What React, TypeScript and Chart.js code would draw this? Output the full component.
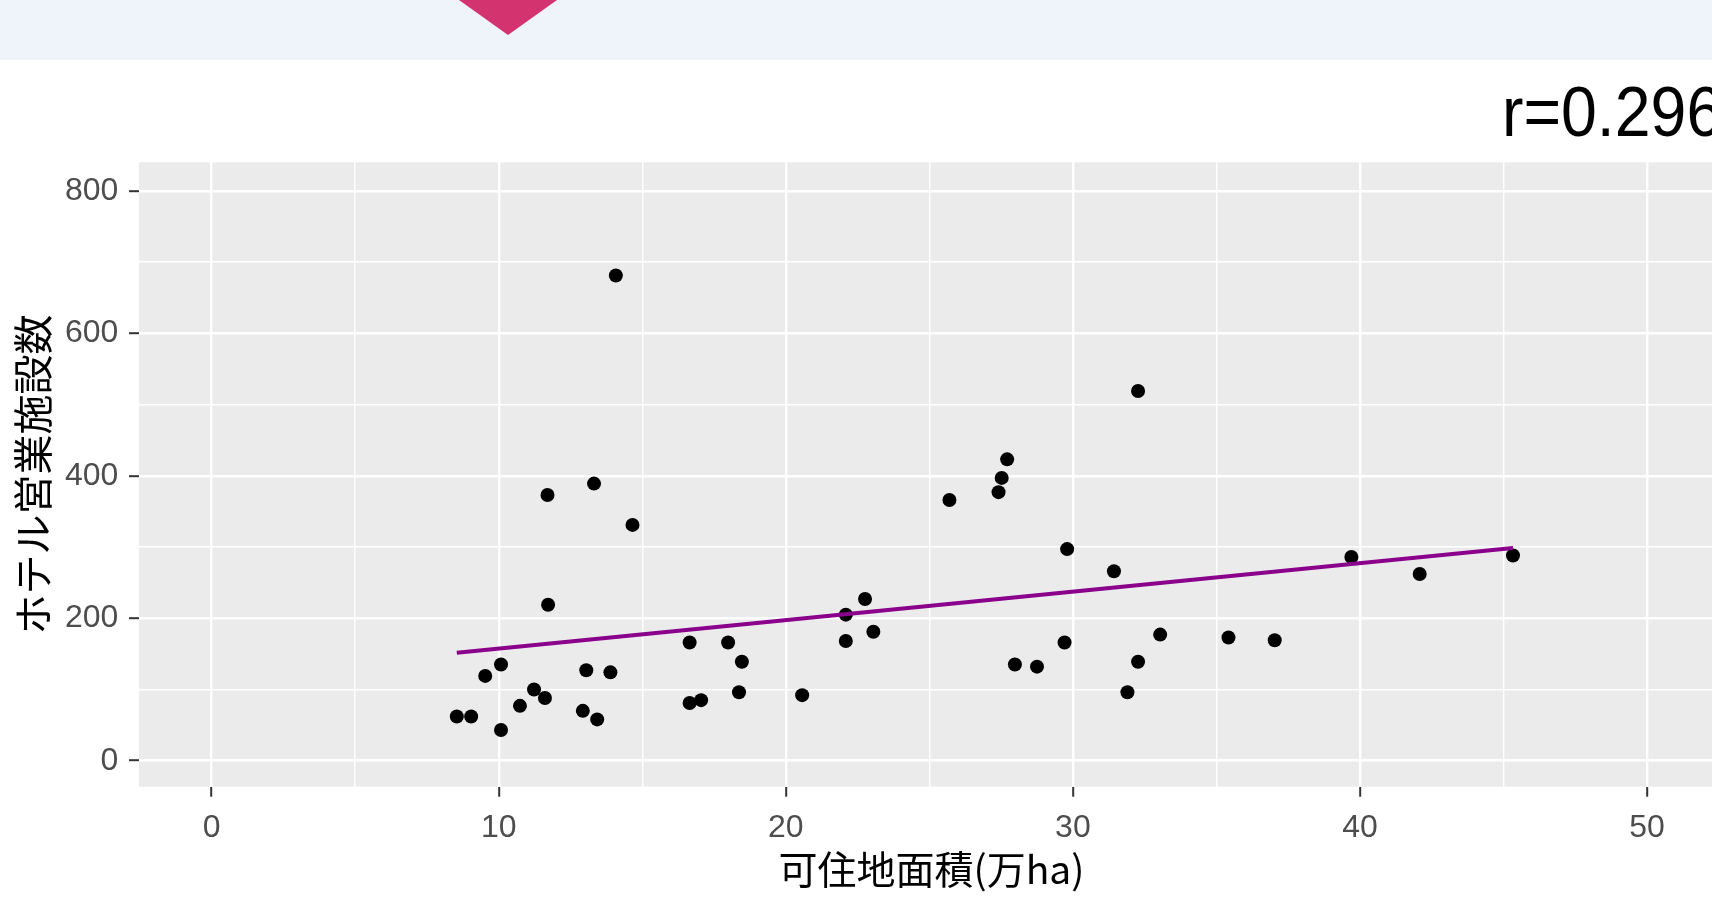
import React, { useEffect, useRef } from "react";
import { Chart, registerables } from "chart.js";

Chart.register(...registerables);

// 可住地面積 (万ha)
const areaX = [
  8.54, 9.04, 9.53, 10.08, 10.08, 10.74, 11.23, 11.61, 11.72, 11.70,
  12.93, 13.05, 13.32, 13.43, 13.89, 14.08, 14.66, 16.65, 16.65, 17.05,
  17.99, 18.37, 18.47, 20.57, 22.09, 22.09, 22.76, 23.05, 25.70, 27.41,
  27.52, 27.71, 27.98, 28.75, 29.71, 29.80, 31.43, 31.90, 32.27, 32.27,
  33.04, 35.42, 37.03, 39.70, 42.08, 45.33,
];
// ホテル営業施設数
const hotelY = [
  62, 62, 119, 135, 43, 77, 100, 88, 219, 373,
  70, 127, 389, 58, 124, 681, 331, 166, 81, 85,
  166, 96, 139, 92, 168, 205, 227, 181, 366, 377,
  397, 423, 135, 132, 166, 297, 266, 96, 519, 139,
  177, 173, 169, 286, 262, 288,
];
// regression line end points
const fitX = [8.54, 45.33];
const fitY = [151.5, 298.5];

const xTickLabels = ["0", "10", "20", "30", "40", "50"];
const yTickLabels = ["0", "200", "400", "600", "800"];

const xTitle = "可住地面積(万ha)";
const yTitle = "ホテル営業施設数";
const corrText = "r=0.296";

const LATIN = "'Liberation Sans', Arial, sans-serif";
const CJK = "'Noto Sans CJK JP', 'Noto Sans', sans-serif";

export default function App() {
  const ref = useRef<HTMLCanvasElement | null>(null);

  useEffect(() => {
    const canvas = ref.current;
    if (!canvas) return;
    const panelBg = {
      id: "panelBg",
      beforeDraw(chart: any) {
        const { ctx, chartArea } = chart;
        ctx.save();
        ctx.fillStyle = "#EBEBEB";
        ctx.fillRect(chartArea.left, chartArea.top, chartArea.right - chartArea.left, chartArea.bottom - chartArea.top);
        ctx.restore();
      },
    };
    const chart = new Chart(canvas, {
      type: "scatter",
      data: {
        datasets: [
          {
            type: "line",
            data: fitX.map((x, i) => ({ x, y: fitY[i] })),
            borderColor: "#8B008B",
            borderWidth: 4,
            pointRadius: 0,
            fill: false,
            tension: 0,
          } as any,
          {
            type: "scatter",
            data: areaX.map((x, i) => ({ x, y: hotelY[i] })),
            backgroundColor: "#000000",
            borderWidth: 0,
            pointRadius: 7,
            pointHoverRadius: 7,
          },
        ],
      },
      options: {
        animation: false,
        responsive: false,
        devicePixelRatio: 1,
        layout: { autoPadding: false, padding: { top: 162.3, left: 0, right: 0, bottom: 0 } },
        plugins: { legend: { display: false }, tooltip: { enabled: false } },
        events: [],
        scales: {
          x: {
            type: "linear",
            position: "bottom",
            min: -2.53,
            max: 52.68,
            border: { display: false },
            grid: {
              color: "#FFFFFF",
              lineWidth: (c: any) => (c.tick && c.tick.value % 10 === 0 ? 2.4 : 1.4),
              drawTicks: true,
              tickLength: 10,
              tickWidth: 2,
              tickColor: (c: any) => (c.tick && c.tick.value % 10 === 0 ? "#333333" : "rgba(0,0,0,0)"),
            },
            ticks: {
              stepSize: 5,
              includeBounds: false,
              autoSkip: false,
              maxRotation: 0,
              minRotation: 0,
              padding: 12,
              color: "#4D4D4D",
              font: { family: LATIN, size: 32 },
              callback: (v: any) => (xTickLabels.includes(String(v)) ? String(v) : ""),
            },
            title: {
              display: true,
              text: xTitle,
              color: "#000000",
              font: { family: CJK, size: 39 },
              padding: { top: 0, bottom: 7 },
            },
            afterFit: (s: any) => {
              s.height = 113.3;
              s.paddingLeft = 0;
              s.paddingRight = 0;
            },
          },
          y: {
            type: "linear",
            min: -36.5,
            max: 840,
            border: { display: false },
            grid: {
              color: "#FFFFFF",
              lineWidth: (c: any) => (c.tick && c.tick.value % 200 === 0 ? 2.4 : 1.4),
              drawTicks: true,
              tickLength: 10,
              tickWidth: 2,
              tickColor: (c: any) => (c.tick && c.tick.value % 200 === 0 ? "#333333" : "rgba(0,0,0,0)"),
            },
            ticks: {
              stepSize: 100,
              includeBounds: false,
              autoSkip: false,
              padding: 10.7,
              color: "#4D4D4D",
              font: { family: LATIN, size: 32 },
              callback: (v: any) => (yTickLabels.includes(String(v)) ? String(v) : ""),
            },
            title: {
              display: true,
              text: yTitle,
              color: "#000000",
              font: { family: CJK, size: 40 },
              padding: { top: 9, bottom: 0 },
            },
            afterFit: (s: any) => {
              s.width = 139;
              s.paddingTop = 0;
              s.paddingBottom = 0;
            },
          },
        },
      } as any,
      plugins: [panelBg],
    });
    return () => chart.destroy();
  }, []);

  return (
    <div
      style={{
        position: "fixed",
        left: 0,
        top: 0,
        width: 1712,
        height: 900,
        overflow: "hidden",
        background: "#FFFFFF",
      }}
    >
      <div
        style={{
          position: "absolute",
          left: 0,
          top: 0,
          width: 1712,
          height: 60,
          background: "rgb(239,243,250)",
        }}
      />
      <div
        style={{
          position: "absolute",
          left: 458.7,
          top: 0,
          width: 0,
          height: 0,
          borderLeft: "49px solid transparent",
          borderRight: "49px solid transparent",
          borderTop: "35px solid #D3336F",
        }}
      />
      <div
        style={{
          position: "absolute",
          left: 1502,
          top: 77,
          fontFamily: LATIN,
          fontSize: 70,
          lineHeight: "70px",
          color: "#000000",
          whiteSpace: "nowrap",
          transform: "scaleX(0.92)",
          transformOrigin: "left top",
        }}
      >
        {corrText}
      </div>
      <canvas
        ref={ref}
        width={1724}
        height={900}
        style={{ position: "absolute", left: 0, top: 0, width: 1724, height: 900 }}
      />
    </div>
  );
}
